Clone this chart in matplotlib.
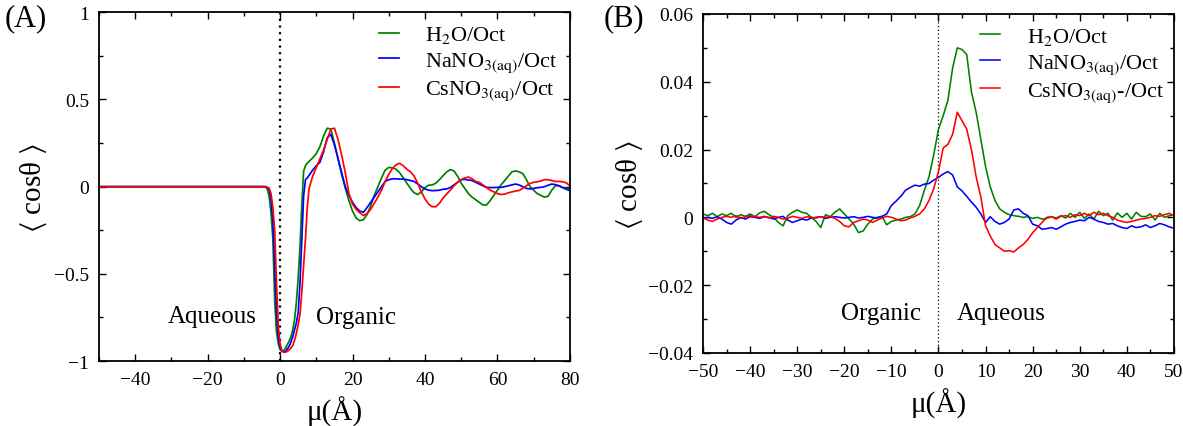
import numpy as np
import matplotlib
matplotlib.use("Agg")
import matplotlib.pyplot as plt
from matplotlib.ticker import MultipleLocator

plt.rcParams['font.family'] = ['Liberation Serif', 'DejaVu Serif']
plt.rcParams['mathtext.fontset'] = 'stix'

# ---------------- Panel (A) data ----------------
xA = [-50, -6, -5, -4, -3.5, -3, -2.5, -2, -1.5, -1, -0.5, 0, 0.5, 1, 1.5, 2, 2.5, 3, 3.5,
      4, 4.5, 5, 5.5, 6, 6.5, 7, 7.5, 8] + list(range(9, 81))

green_A = [0, 0, 0, -0.003, -0.015, -0.06, -0.15, -0.30, -0.65, -0.83, -0.90, -0.935, -0.945,
           -0.94, -0.925, -0.905, -0.885, -0.86, -0.82, -0.76, -0.66, -0.52, -0.34, -0.10, 0.09,
           0.12, 0.135, 0.145,
           0.165, 0.19, 0.23, 0.29, 0.335, 0.33, 0.25, 0.16, 0.07, -0.01, -0.08, -0.14, -0.18,
           -0.195, -0.19, -0.16, -0.11, -0.05, 0.0, 0.05, 0.095, 0.11, 0.108, 0.10, 0.08, 0.05,
           0.02, -0.01, -0.035, -0.045, -0.03, -0.005, 0.008, 0.01, 0.02, 0.04, 0.063, 0.085,
           0.098, 0.09, 0.06, 0.02, -0.01, -0.04, -0.06, -0.075, -0.09, -0.105, -0.105, -0.08,
           -0.05, -0.02, 0.01, 0.035, 0.06, 0.085, 0.09, 0.085, 0.075, 0.04, 0.0, -0.02, -0.04,
           -0.05, -0.06, -0.055, -0.02, 0.005, 0.005, -0.005, -0.01, -0.015]

red_A = [0, 0, 0, 0, -0.003, -0.01, -0.04, -0.12, -0.25, -0.55, -0.80, -0.90, -0.94, -0.95,
         -0.948, -0.945, -0.935, -0.925, -0.91, -0.88, -0.84, -0.79, -0.73, -0.60, -0.45, -0.30,
         -0.12, -0.01,
         0.06, 0.11, 0.16, 0.21, 0.27, 0.33, 0.335, 0.27, 0.18, 0.08, -0.04, -0.10, -0.13, -0.15,
         -0.165, -0.155, -0.13, -0.095, -0.06, -0.02, 0.03, 0.07, 0.105, 0.125, 0.134, 0.12, 0.10,
         0.085, 0.06, 0.02, -0.03, -0.07, -0.10, -0.115, -0.115, -0.095, -0.065, -0.042, -0.02,
         0.005, 0.025, 0.04, 0.05, 0.055, 0.045, 0.03, 0.025, 0.01, -0.005, -0.02, -0.03, -0.04,
         -0.045, -0.043, -0.035, -0.03, -0.025, -0.022, -0.01, 0.005, 0.018, 0.025, 0.028, 0.033,
         0.04, 0.04, 0.035, 0.03, 0.03, 0.028, 0.022, 0.005]

blue_A = [0, 0, 0, 0, -0.005, -0.02, -0.08, -0.20, -0.45, -0.72, -0.87, -0.92, -0.94, -0.947,
          -0.945, -0.93, -0.915, -0.89, -0.86, -0.82, -0.78, -0.72, -0.55, -0.30, -0.05, 0.04,
          0.05, 0.065,
          0.095, 0.12, 0.14, 0.20, 0.28, 0.30, 0.24, 0.16, 0.08, 0.0, -0.05, -0.09, -0.12, -0.14,
          -0.147, -0.12, -0.09, -0.06, -0.03, 0.0, 0.03, 0.04, 0.045, 0.045, 0.043, 0.044, 0.04,
          0.035, 0.03, 0.015, 0.0, -0.013, -0.02, -0.023, -0.022, -0.02, -0.015, -0.013, -0.005,
          0.01, 0.025, 0.04, 0.042, 0.038, 0.035, 0.025, 0.015, 0.005, -0.004, -0.005, -0.005,
          -0.004, -0.004, 0.0, 0.005, 0.01, 0.015, 0.01, 0.0, -0.01, -0.013, -0.01, -0.006, -0.004,
          0.0, 0.008, 0.015, 0.012, 0.005, -0.005, -0.015, -0.023]

# ---------------- Panel (B) data ----------------
xB = list(range(-50, 51))

green_B = [0.0010, 0.0005, 0.0012, 0.0002, 0.0010, 0.0005, 0.0012, 0.0000, 0.0008, 0.0003,
           0.0010, 0.0002, 0.0013, 0.0018, 0.0008, 0.0000, -0.0015, -0.0025, 0.0005, 0.0015,
           0.0022, 0.0015, 0.0012, 0.0000, -0.0012, -0.0030, 0.0008, 0.0002, 0.0015, 0.0025,
           0.0010, -0.0005, -0.0020, -0.0045, -0.0040, -0.0020, -0.0005, 0.0000, 0.0003, -0.0022,
           -0.0012, -0.0008, -0.0005, 0.0000, 0.0002, 0.0010, 0.0035, 0.0080, 0.0120, 0.0185,
           0.0260, 0.0300, 0.0345, 0.0440, 0.0500, 0.0495, 0.0480, 0.0370, 0.0310, 0.0230,
           0.0150, 0.0090, 0.0050, 0.0025, 0.0015, 0.0008, 0.0005, 0.0003, 0.0000, 0.0002,
           -0.0003, 0.0000, -0.0005, -0.0003, 0.0002, -0.0002, 0.0005, -0.0002, 0.0012, 0.0000,
           0.0015, -0.0003, 0.0010, -0.0005, 0.0018, 0.0005, 0.0012, -0.0008, 0.0013, 0.0000,
           0.0012, -0.0005, 0.0015, 0.0003, 0.0002, 0.0010, -0.0008, 0.0012, 0.0000, 0.0005,
           0.0008]

red_B = [0.0000, -0.0008, -0.0012, -0.0005, 0.0000, 0.0003, 0.0000, 0.0005, -0.0003, 0.0002,
         0.0005, 0.0002, 0.0000, 0.0003, -0.0002, 0.0003, 0.0000, -0.0005, -0.0002, 0.0003,
         0.0000, -0.0003, 0.0002, 0.0000, -0.0002, 0.0002, 0.0000, 0.0002, -0.0003, -0.0012,
         -0.0025, -0.0028, -0.0015, -0.0010, -0.0005, -0.0008, -0.0015, -0.0008, -0.0002, 0.0003,
         0.0000, -0.0005, -0.0010, -0.0008, -0.0002, 0.0003, 0.0010, 0.0025, 0.0050, 0.0085,
         0.0135, 0.0205, 0.0215, 0.0245, 0.0310, 0.0285, 0.0260, 0.0200, 0.0120, 0.0060,
         -0.0025, -0.0055, -0.0080, -0.0090, -0.0100, -0.0098, -0.0102, -0.0090, -0.0080, -0.0065,
         -0.0045, -0.0030, -0.0015, 0.0000, 0.0002, -0.0005, 0.0003, 0.0005, 0.0000, 0.0008,
         0.0005, 0.0012, 0.0005, 0.0015, 0.0008, 0.0012, 0.0005, 0.0000, -0.0008, -0.0012,
         -0.0015, -0.0012, -0.0008, -0.0005, -0.0003, 0.0000, 0.0005, 0.0003, 0.0008, 0.0012,
         0.0005]

blue_B = [-0.0005, 0.0000, -0.0003, 0.0002, -0.0005, -0.0015, -0.0020, -0.0008, 0.0000, -0.0005,
          0.0002, 0.0000, -0.0003, 0.0002, 0.0000, -0.0005, 0.0000, 0.0003, -0.0008, -0.0015,
          -0.0010, -0.0005, -0.0008, -0.0002, 0.0000, 0.0002, -0.0003, 0.0000, 0.0002, 0.0000,
          -0.0002, 0.0000, 0.0002, -0.0002, 0.0000, 0.0003, 0.0000, -0.0002, 0.0003, 0.0010,
          0.0035, 0.0048, 0.0062, 0.0080, 0.0088, 0.0095, 0.0092, 0.0098, 0.0100, 0.0110,
          0.0118, 0.0128, 0.0135, 0.0125, 0.0090, 0.0078, 0.0062, 0.0045, 0.0030, 0.0010,
          -0.0015, 0.0002, -0.0012, -0.0020, -0.0015, -0.0005, 0.0022, 0.0025, 0.0012, 0.0005,
          -0.0020, -0.0025, -0.0035, -0.0033, -0.0030, -0.0035, -0.0028, -0.0020, -0.0015, -0.0012,
          -0.0008, -0.0010, 0.0000, -0.0005, -0.0012, -0.0015, -0.0020, -0.0018, -0.0025, -0.0030,
          -0.0033, -0.0025, -0.0030, -0.0028, -0.0022, -0.0030, -0.0025, -0.0018, -0.0022, -0.0028,
          -0.0032]

labels_A = ['H$_2$O/Oct', r'NaNO$_{\mathrm{3(aq)}}$/Oct', r'CsNO$_{\mathrm{3(aq)}}$/Oct']
labels_B = ['H$_2$O/Oct', r'NaNO$_{\mathrm{3(aq)}}$/Oct', r'CsNO$_{\mathrm{3(aq)}}$-/Oct']
colors = ['#008000', '#0000ff', '#ff0000']

fig = plt.figure(figsize=(11.83, 4.27), dpi=100)
axA = fig.add_axes([0.0837, 0.152, 0.398, 0.817])
axB = fig.add_axes([0.5943, 0.171, 0.398, 0.794])

tick_fs = 14
for ax in (axA, axB):
    ax.tick_params(which='both', direction='in', top=True, right=True, labelsize=tick_fs,
                   width=1.0, pad=7)
    ax.tick_params(which='major', length=5)
    ax.tick_params(which='minor', length=3)
    for s in ax.spines.values():
        s.set_linewidth(1.3)

leg_kw = dict(loc='upper right', frameon=False, fontsize=16, handlelength=0.9,
              handletextpad=1.2, labelspacing=0.22, borderaxespad=0.15)

# Panel A
for y, c, l in zip([green_A, blue_A, red_A], colors, labels_A):
    axA.plot(xA, y, color=c, lw=1.25, label=l)
axA.axvline(0, color='black', ls=(0, (1, 2)), lw=1.6, zorder=0)
axA.set_xlim(-50, 80)
axA.set_ylim(-1, 1)
axA.set_xticks([-40, -20, 0, 20, 40, 60, 80])
axA.set_xticklabels(['\u221240', '\u221220', '0', '20', '40', '60', '80'])
axA.xaxis.set_minor_locator(MultipleLocator(10))
axA.set_yticks([-1, -0.5, 0, 0.5, 1])
axA.set_yticklabels(['\u22121', '\u22120.5', '0', '0.5', '1'])
axA.yaxis.set_minor_locator(MultipleLocator(0.25))
axA.set_xlabel('μ(Å)', fontsize=21, labelpad=6)
axA.set_ylabel(r'$\langle$ cosθ $\rangle$', fontsize=21, labelpad=4)
axA.text(-18.7, -0.74, 'Aqueous', fontsize=18, ha='center', va='center')
axA.text(20.9, -0.75, 'Organic', fontsize=18, ha='center', va='center')
axA.legend(bbox_to_anchor=(1.0, 1.0), **leg_kw)
fig.text(0.004, 0.955, '(A)', fontsize=22, ha='left', va='center')

# Panel B
for y, c, l in zip([green_B, blue_B, red_B], colors, labels_B):
    axB.plot(xB, y, color=c, lw=1.15, label=l)
axB.axvline(0, color='black', ls=(0, (1, 2)), lw=0.9, zorder=0)
axB.set_xlim(-50, 50)
axB.set_ylim(-0.04, 0.06)
axB.set_xticks(list(range(-50, 51, 10)))
axB.set_xticklabels([('\u2212' + str(-v)) if v < 0 else str(v) for v in range(-50, 51, 10)])
axB.xaxis.set_minor_locator(MultipleLocator(5))
axB.set_yticks([-0.04, -0.02, 0, 0.02, 0.04, 0.06])
axB.set_yticklabels(['\u22120.04', '\u22120.02', '0', '0.02', '0.04', '0.06'])
axB.yaxis.set_minor_locator(MultipleLocator(0.01))
axB.set_xlabel('μ(Å)', fontsize=21, labelpad=6)
axB.set_ylabel(r'$\langle$ cosθ $\rangle$', fontsize=21, labelpad=2)
axB.text(-12.2, -0.0282, 'Organic', fontsize=18, ha='center', va='center')
axB.text(13.4, -0.0282, 'Aqueous', fontsize=18, ha='center', va='center')
axB.legend(bbox_to_anchor=(1.005, 1.0), **leg_kw)
fig.text(0.51, 0.955, '(B)', fontsize=22, ha='left', va='center')

fig.savefig('out.png', dpi=100)
